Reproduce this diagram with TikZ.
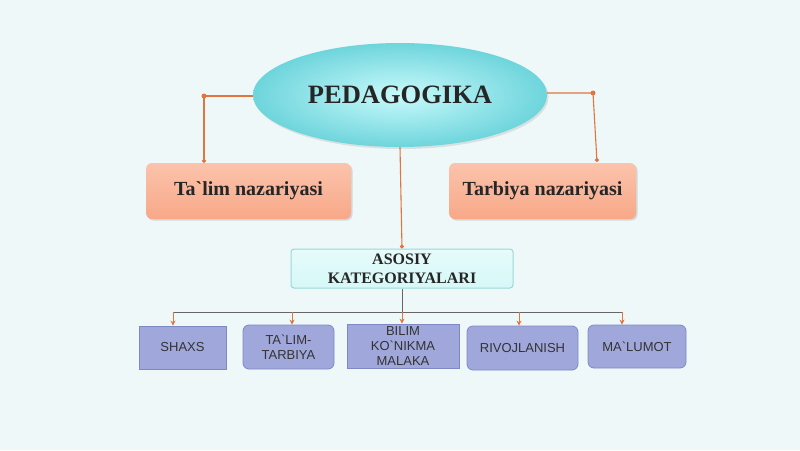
\documentclass[tikz,border=0pt]{standalone}
\usepackage{fontspec}
\setmainfont{Liberation Serif}[Ligatures=TeXOff]
\setsansfont{Liberation Sans}[Ligatures=TeXOff]
\usetikzlibrary{arrows.meta,shadows,shapes.geometric}
\definecolor{bg}{HTML}{EEF8F9}
\definecolor{orl}{HTML}{E2743E}
\definecolor{salmon}{HTML}{F8A888}
\definecolor{salmonlt}{HTML}{FBC3AC}
\definecolor{cyanin}{HTML}{C9FAFB}
\definecolor{cyanout}{HTML}{6ED5DC}
\definecolor{lav}{HTML}{A0A8DB}
\definecolor{lavdk}{HTML}{7E88C6}
\definecolor{asfill}{HTML}{D6F8F8}
\definecolor{asdraw}{HTML}{98D8DA}
\tikzset{
  theorybox/.style={rounded corners=6pt, top color=salmonlt, bottom color=salmon, draw=none,
    font=\bfseries\fontsize{20}{24}\selectfont, text=black!85,
    drop shadow={shadow xshift=1.5pt,shadow yshift=-1.5pt,opacity=0.25}},
  catbox/.style={draw=lavdk, line width=0.8pt, fill=lav, font=\sffamily\fontsize{13}{15}\selectfont,
    text=black!80, align=center, inner sep=0pt},
  orangeline/.style={draw=orl, line width=1.1pt},
  dotend/.style={orangeline, -{Circle[length=4pt,width=4pt]}},
  smallarr/.style={draw=orl, line width=1pt, -{Stealth[length=5pt,width=5pt]}},
  busline/.style={draw=black!60, line width=1pt},
}
\begin{document}
\begin{tikzpicture}[x=1pt,y=-1pt]
\fill[bg] (0,0) rectangle (800,450);
\useasboundingbox (0,0) rectangle (800,450);

% ellipse
\node[ellipse, minimum width=294pt, minimum height=104pt, shading=radial, inner color=cyanin, outer color=cyanout,
  drop shadow={shadow xshift=1.5pt,shadow yshift=-2pt,opacity=0.2},
  font=\bfseries\fontsize{26.5}{30}\selectfont, text=black!85] (ped) at (400,95) {PEDAGOGIKA};

% theory boxes
\node[theorybox, minimum width=205pt, minimum height=56pt] (talim) at (248.5,191) {Ta`lim nazariyasi};
\node[theorybox, minimum width=187pt, minimum height=56pt] (tarb) at (542.5,191) {Tarbiya nazariyasi};

% asosiy
\node[rounded corners=3pt, draw=asdraw, line width=1pt, top color=asfill!60!white, bottom color=asfill,
  minimum width=222pt, minimum height=39pt, align=center,
  font=\bfseries\fontsize{16}{19}\selectfont, text=black!85] (asos) at (402,268.5) {ASOSIY\\KATEGORIYALARI};

% bottom categories
\node[catbox, minimum width=87pt, minimum height=43pt] (shaxs) at (182.5,347.5) {SHAXS};
\node[catbox, rounded corners=6pt, minimum width=91pt, minimum height=44pt] (tt) at (288.5,347) {TA`LIM-\\TARBIYA};
\node[catbox, minimum width=112pt, minimum height=44pt] (bilim) at (403,346) {BILIM\\KO`NIKMA\\MALAKA};
\node[catbox, rounded corners=6pt, minimum width=111pt, minimum height=44pt] (rivoj) at (522.5,348) {RIVOJLANISH};
\node[catbox, rounded corners=6pt, minimum width=98pt, minimum height=43pt] (malum) at (637,346.5) {MA`LUMOT};

% connectors from ellipse
\coordinate (lc) at (204,96);
\coordinate (rc) at (593,93);
\coordinate (rend) at (597,162);
\draw[dotend] (ped.west |- lc) -- (lc) -- (talim.north -| lc);
\fill[orl] (lc) circle (2.5pt);
\draw[dotend] (ped.east |- rc) -- (rc) -- (rend);
\fill[orl] (rc) circle (2.5pt);
\draw[dotend] (ped.south) -- (asos.north);

% bus
\coordinate (busL) at (173,312);
\coordinate (busR) at (622,312);
\coordinate (b2) at (292,312);
\coordinate (b4) at (519,312);
\draw[busline] (asos.south) -- (asos.south |- busL);
\draw[busline] (busL) -- (busR);
\draw[smallarr] (busL) -- (shaxs.north -| busL);
\draw[smallarr] (b2) -- (tt.north -| b2);
\draw[smallarr] (asos.south |- busL) -- (bilim.north -| asos.south);
\draw[smallarr] (b4) -- (rivoj.north -| b4);
\draw[smallarr] (busR) -- (malum.north -| busR);
\end{tikzpicture}
\end{document}
